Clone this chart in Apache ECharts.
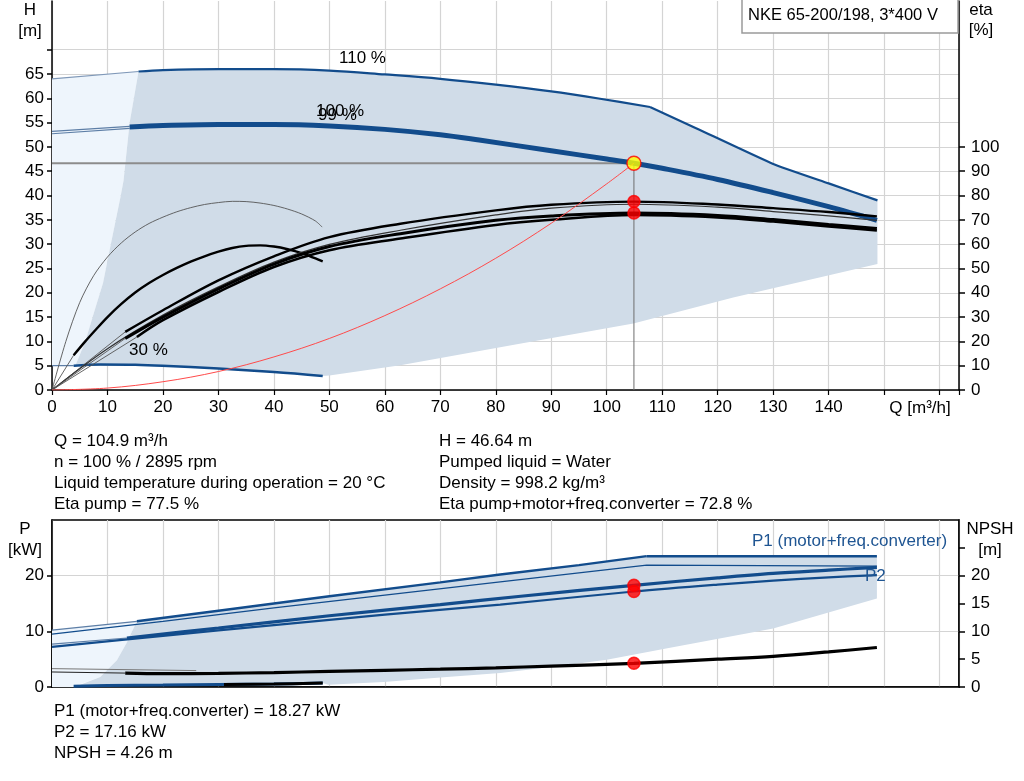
<!DOCTYPE html>
<html><head><meta charset="utf-8">
<script src="https://cdn.jsdelivr.net/npm/echarts/dist/echarts.min.js"></script>
<style>html,body{margin:0;padding:0;background:#fff}#c{width:1024px;height:781px}</style>
</head><body><div id="c"></div>
<script>
// ---------- DATA (Q in m3/h) ----------
// Top chart: head H [m]
const h110Thin = [[0,64.0],[15.6,65.5]];
const h110 = [[15.6,65.5],[20,65.8],[30,66.0],[40,66.0],[50,65.7],[60,64.9],[70,64.0],[80,62.8],[90,61.4],[98.8,59.9],[107.8,58.2]];
const h110End = [[107.8,58.2],[116.2,53.8],[130,46.5],[140,42.5],[148.8,39.0]];
const h100ThinA = [[0,53.2],[14,54.2]];
const h100ThinB = [[0,52.7],[14,53.8]];
const h100 = [[14,54.1],[20,54.4],[30,54.6],[40,54.6],[50,54.3],[60,53.6],[70,52.5],[77,51.4],[90,49.2],[100,47.5],[104.9,46.64],[110,45.6],[120,43.3],[130,40.6],[140,37.7],[148.7,34.9]];
const h30Thin = [[0,5.0],[3.9,5.0]];
const h30 = [[3.9,5.0],[8.7,5.25],[15,5.2],[19.9,5.0],[30,4.4],[40,3.7],[48.8,2.9]];
const systemCurve = [[0,0],[10,0.4],[20,1.7],[30,3.8],[40,6.8],[50,10.6],[60,15.3],[70,20.8],[80,27.1],[90,34.3],[100,42.4],[104.9,46.64]];
const opLineH = [[0,46.64],[104.9,46.64]];
const opLineV = [[104.9,0],[104.9,46.64]];
const opPoint = [[104.9,46.64]];
// operating region (shaded)
const regionLight = [[0,5.0],[0,64.0],[15.6,65.5],[14.0,55],[12.9,43.1],[12.4,40],[10.5,29.4],[9.2,22],[7.5,15.7],[6,10],[4.2,5.0]];
const regionDark = [[15.6,65.5],[20,65.8],[30,66.0],[40,66.0],[50,65.7],[60,64.9],[70,64.0],[80,62.8],[90,61.4],[98.8,59.9],[107.8,58.2],[116.2,53.8],[130,46.5],[140,42.5],[148.8,39.0],
  [148.8,25.9],[122.8,19.0],[104.8,13.7],[83.8,9.4],[62.8,5.1],[50,3.0],[48.8,2.9],[40,3.7],[30,4.4],[19.9,5.0],[15,5.2],[8.7,5.25],[4.2,5.0],
  [6,10],[7.5,15.7],[9.2,22],[10.5,29.4],[12.4,40],[12.9,43.1],[14.0,55]];
// Efficiency eta [%]
const etaAThin = [[0,0],[13.2,23.9]];
const etaA = [[13.2,23.9],[20,32.8],[30,45.1],[40,55],[50,62.9],[62.8,68.4],[80,73.9],[90,76.2],[104.9,77.5],[120,76.3],[130,74.8],[140,73.2],[148.7,71.4]];
const etaB = [[0,0],[10,17],[20,30.8],[30,42.4],[40,52.6],[50,59.9],[62.8,65.7],[80,72],[90,74.8],[104.9,76.4],[120,75.2],[130,73.4],[140,71.6],[148.7,69.8]];
const etaCThin = [[0,0],[13.2,21.2]];
const etaC = [[13.2,21.2],[20,30.0],[30,41.6],[40,51.8],[50,59.0],[62.8,64.3],[80,69.8],[90,71.6],[104.9,72.8],[120,71.8],[130,70.1],[140,68.1],[148.7,66.4]];
const etaDThin = [[0,0],[15.3,21.8]];
const etaD = [[15.3,21.8],[20,28.7],[30,40.3],[40,50.6],[50,57.5],[62.8,62.3],[80,67.9],[90,70.0],[104.9,72.0],[120,71.0],[130,69.3],[140,67.3],[148.7,65.6]];
const eta30Thin = [[0,0],[2.5,20],[5,36],[7.5,47],[10,54.7],[12.5,60.5],[15,65],[17.5,68.5],[20,71.1],[22.5,73.3],[25,75],[27.5,76.3],[30,77.1],[32.5,77.6],[35,77.5],[37.5,76.9],[40,75.9],[42.5,74.4],[45,72.4],[47.5,69.5],[48.7,67]];
const eta30Ext = [[0,0],[3.9,14.3]];
const eta30 = [[3.9,14.3],[6,20.0],[8,25.1],[10,30.0],[12.5,35.4],[15,40.1],[17.5,44.0],[20,47.3],[22.5,50.2],[25,52.8],[27.5,55.0],[30,56.9],[32.5,58.4],[35,59.3],[37.5,59.5],[40,59.0],[42.5,57.9],[45,56.3],[47.5,54.1],[48.8,52.9]];
const etaPoints = [[104.9,77.5],[104.9,72.8]];
// Bottom chart: power P [kW] and NPSH [m]
const p1_110Thin = [[0,10.2],[15.3,11.8]];
const p1_110 = [[15.3,11.8],[30,13.7],[50,16.3],[70,18.8],[80.8,20.2],[95,21.9],[107.2,23.5]];
const p1_110End = [[107.2,23.5],[148.7,23.5]];
const p2_110 = [[0,9.5],[20,11.8],[40,14.2],[60,16.5],[80.8,18.9],[107.2,21.9],[148.7,21.7]];
const p1_100Thin = [[0,7.7],[13.5,8.8]];
const p1_100 = [[13.5,8.8],[30,10.6],[50,12.8],[70,14.8],[84.5,16.3],[104.9,18.27],[120,19.6],[130,20.4],[140,21.0],[148.7,21.5]];
const p2_100 = [[0,7.2],[20,9.2],[40,11.1],[60,13.0],[80.8,14.8],[104.9,17.16],[120,18.4],[130,19.1],[140,19.7],[148.7,20.1]];
const p_30 = [[3.9,0.15],[10,0.25],[20,0.35],[30,0.45],[40,0.55],[48.8,0.7]];
const p_30b = [[31,0.46],[40,0.55],[48.8,0.7]];
const npshThinA = [[0,2.7],[13.2,2.5]];
const npshThinB = [[0,3.3],[26,2.95]];
const npsh = [[13.2,2.5],[20,2.4],[30,2.45],[40,2.6],[50,2.8],[60,3.0],[70,3.2],[80,3.45],[90,3.75],[104.9,4.26],[120,5.0],[130,5.5],[140,6.3],[148.7,7.1]];
const powerPoints = [[104.9,18.27],[104.9,17.16]];
const npshPoint = [[104.9,4.26]];
const pRegionLight = [[0,0],[0,10.2],[15.3,11.8],[13.4,7.8],[11.7,4.8],[8.7,1.8],[4.5,0.3],[3.9,0]];
const pRegionDark = [[15.3,11.8],[30,13.7],[50,16.3],[70,18.8],[80.8,20.2],[95,21.9],[107.2,23.5],[148.7,23.5],
  [148.7,15.9],[130,10.5],[110.7,6.9],[100,4.9],[90,3.6],[80.8,2.5],[70,1.7],[59.8,0.9],[49.8,0.4],[48.8,0.7],[40,0.55],[30,0.45],[20,0.35],[10,0.25],[4.5,0.2],
  [8.7,1.8],[11.7,4.8],[13.4,7.8]];
// Axis ticks / labels
const hTicks = [0,5,10,15,20,25,30,35,40,45,50,55,60,65,70];
const hLabels = [0,5,10,15,20,25,30,35,40,45,50,55,60,65];
const etaTicks = [0,10,20,30,40,50,60,70,80,90,100];
const pTicks = [0,10,20];
const npshTicks = [0,5,10,15,20,25];
const npshLabels = [0,5,10,15,20];
const qLabels = [0,10,20,30,40,50,60,70,80,90,100,110,120,130,140];
// Texts
const titleText = 'NKE 65-200/198, 3*400 V';
const infoLeft = ['Q = 104.9 m³/h','n = 100 % / 2895 rpm','Liquid temperature during operation = 20 °C','Eta pump = 77.5 %'];
const infoRight = ['H = 46.64 m','Pumped liquid = Water','Density = 998.2 kg/m³','Eta pump+motor+freq.converter = 72.8 %'];
const infoBottom = ['P1 (motor+freq.converter) = 18.27 kW','P2 = 17.16 kW','NPSH = 4.26 m'];

// ---------- CHART ----------
const FONT = "'Liberation Sans', Arial, sans-serif";
const FS = 17;
const BLUE = '#124c8c';
const DARK = '#d0dce8';
const LIGHT = '#eef5fc';
const GRIDC = '#d4d4d4';

function line(data, color, width, xi, yi, extra) {
  return Object.assign({type:'line', data: data, xAxisIndex: xi, yAxisIndex: yi, showSymbol:false, symbol:'none',
    lineStyle:{color: color, width: width}, silent:true, z:3, smooth:0.35, animation:false}, extra || {});
}
function poly(data, color, xi, yi) {
  return {type:'custom', xAxisIndex: xi, yAxisIndex: yi, data: data, silent:true, z:1, animation:false,
    renderItem: function(params, api) {
      if (params.dataIndex !== 0) return null;
      const pts = data.map(function(p){ return api.coord(p); });
      return {type:'polygon', shape:{points: pts}, style:{fill: color}};
    }};
}
function dots(data, xi, yi, size, fill, border) {
  return {type:'scatter', data: data, xAxisIndex: xi, yAxisIndex: yi, symbolSize: size, silent:true, z:10, animation:false,
    itemStyle:{color: fill, borderColor: border, borderWidth: 1.5}};
}
function txt(text, x, y, opts) {
  return {type:'text', z:100, style:Object.assign({text: text, x: x, y: y, font: FS + 'px ' + FONT, fill:'#000', verticalAlign:'middle', textAlign:'left'}, opts||{})};
}

const xAxisBase = {type:'value', min:0, max:163.5, interval:10,
  axisLine:{show:true, onZero:false, lineStyle:{color:'#000', width:1.5}},
  splitLine:{show:true, lineStyle:{color:GRIDC, width:1.2}}};
const lbl = function(vals, margin){ return {show:true, customValues: vals, color:'#000', fontSize:FS, fontFamily:FONT, margin: margin}; };

const graphics = [
  {type:'rect', z:100, shape:{x:742, y:-1, width:216, height:34}, style:{fill:'#fff', stroke:'#9a9a9a', lineWidth:1.5}},
  txt(titleText, 748, 15, {font:'16.5px ' + FONT}),
  txt('H', 30, 10, {textAlign:'center'}), txt('[m]', 30, 31, {textAlign:'center'}),
  txt('eta', 981, 10, {textAlign:'center'}), txt('[%]', 981, 30, {textAlign:'center'}),
  txt('Q [m³/h]', 920, 408, {textAlign:'center'}),
  txt('P', 25, 529, {textAlign:'center'}), txt('[kW]', 25, 550, {textAlign:'center'}),
  txt('NPSH', 990, 529, {textAlign:'center'}), txt('[m]', 990, 550, {textAlign:'center'}),
  txt('110 %', 339, 58), txt('100 %', 316, 111), txt('99 %', 318, 115), txt('30 %', 129, 350),
  txt('P1 (motor+freq.converter)', 752, 541, {fill:'#1f5592'}),
  txt('P2', 865, 576, {fill:'#1f5592'})
];
infoLeft.forEach(function(t,i){ graphics.push(txt(t, 54, 441 + i*21.2)); });
infoRight.forEach(function(t,i){ graphics.push(txt(t, 439, 441 + i*21.2)); });
infoBottom.forEach(function(t,i){ graphics.push(txt(t, 54, 711 + i*21.2)); });

const chart = echarts.init(document.getElementById('c'), null, {renderer:'canvas'});
chart.setOption({
  animation:false,
  backgroundColor:'#fff',
  textStyle:{fontFamily: FONT},
  grid:[
    {left:52, right:65, top:1, height:389},
    {left:52, right:65, top:520, height:167, show:true, borderColor:'#000', borderWidth:1.5, backgroundColor:'transparent'}
  ],
  xAxis:[
    Object.assign({}, xAxisBase, {gridIndex:0,
      axisTick:{show:true, length:5, lineStyle:{color:'#000', width:1.2}},
      axisLabel:lbl(qLabels, 9)}),
    Object.assign({}, xAxisBase, {gridIndex:1, axisTick:{show:false}, axisLabel:{show:false}})
  ],
  yAxis:[
    {gridIndex:0, type:'value', position:'left', min:0, max:80, interval:5,
      axisLine:{show:true, onZero:false, lineStyle:{color:'#000', width:1.5}},
      axisTick:{show:true, customValues: hTicks, length:5, lineStyle:{color:'#000', width:1.5}},
      axisLabel:lbl(hLabels, 8),
      splitLine:{show:true, lineStyle:{color:GRIDC, width:1.2}}},
    {gridIndex:0, type:'value', position:'right', min:0, max:160, interval:10,
      axisLine:{show:true, onZero:false, lineStyle:{color:'#000', width:1.5}},
      axisTick:{show:true, customValues: etaTicks, length:6, lineStyle:{color:'#000', width:1.5}},
      axisLabel:lbl(etaTicks, 12),
      splitLine:{show:false}},
    {gridIndex:1, type:'value', position:'left', min:0, max:30, interval:10,
      axisLine:{show:true, onZero:false, lineStyle:{color:'#000', width:1.5}},
      axisTick:{show:true, customValues: pTicks, length:5, lineStyle:{color:'#000', width:1.5}},
      axisLabel:lbl(pTicks, 8),
      splitLine:{show:true, lineStyle:{color:GRIDC, width:1.2}}},
    {gridIndex:1, type:'value', position:'right', min:0, max:30, interval:5,
      axisLine:{show:true, onZero:false, lineStyle:{color:'#000', width:1.5}},
      axisTick:{show:true, customValues: npshTicks, length:6, lineStyle:{color:'#000', width:1.5}},
      axisLabel:lbl(npshLabels, 12),
      splitLine:{show:false}}
  ],
  series:[
    poly(regionLight, LIGHT, 0, 0),
    poly(regionDark, DARK, 0, 0),
    line(opLineH, '#8c8c8c', 2, 0, 0, {smooth:false, z:2}),
    line(opLineV, '#6e6e6e', 1, 0, 0, {smooth:false, z:2}),
    line(systemCurve, '#ff4a4a', 1, 0, 0, {z:4}),
    line(h110Thin, '#7f98b8', 1.2, 0, 0, {smooth:false}),
    line(h110, BLUE, 2.2, 0, 0),
    line(h110End, BLUE, 2.2, 0, 0, {smooth:0.15}),
    line(h100ThinA, '#5d7ea6', 1.2, 0, 0, {smooth:false}),
    line(h100ThinB, '#5d7ea6', 1.2, 0, 0, {smooth:false}),
    line(h100, BLUE, 5, 0, 0),
    line(h30Thin, '#5d7ea6', 1.2, 0, 0, {smooth:false}),
    line(h30, BLUE, 2.5, 0, 0),
    line(eta30Thin, '#555', 0.9, 0, 1, {smooth:0.3}),
    line(eta30Ext, '#555', 0.9, 0, 1, {smooth:false}),
    line(eta30, '#000', 2.4, 0, 1, {smooth:0.3}),
    line(etaAThin, '#555', 0.9, 0, 1, {smooth:false}),
    line(etaA, '#000', 2.4, 0, 1),
    line(etaB, '#333', 1.2, 0, 1),
    line(etaCThin, '#555', 0.9, 0, 1, {smooth:false}),
    line(etaC, '#000', 3, 0, 1),
    line(etaDThin, '#555', 0.9, 0, 1, {smooth:false}),
    line(etaD, '#000', 2.6, 0, 1),
    dots(etaPoints, 0, 1, 12, '#ff0000', '#ff0000'),
    dots(opPoint, 0, 0, 14, '#ffff00', '#ff0000'),
    poly(pRegionLight, LIGHT, 1, 2),
    poly(pRegionDark, DARK, 1, 2),
    line(p1_110Thin, '#5d7ea6', 1.2, 1, 2, {smooth:false}),
    line(p1_110, BLUE, 2.4, 1, 2, {smooth:false}),
    line(p1_110End, BLUE, 2.4, 1, 2, {smooth:false}),
    line(p2_110, BLUE, 1.2, 1, 2, {smooth:false}),
    line(p1_100Thin, '#5d7ea6', 1.2, 1, 2, {smooth:false}),
    line(p1_100, BLUE, 3.2, 1, 2),
    line(p2_100, BLUE, 2.2, 1, 2),
    line(p_30, BLUE, 3, 1, 2),
    line(p_30b, '#000', 3, 1, 2),
    line(npshThinA, '#222', 1, 1, 3, {smooth:false}),
    line(npshThinB, '#777', 1, 1, 3, {smooth:false}),
    line(npsh, '#000', 3.2, 1, 3),
    dots(powerPoints, 1, 2, 12, '#ff0000', '#ff0000'),
    dots(npshPoint, 1, 3, 12, '#ff0000', '#ff0000')
  ],
  graphic: graphics
});
</script></body></html>
